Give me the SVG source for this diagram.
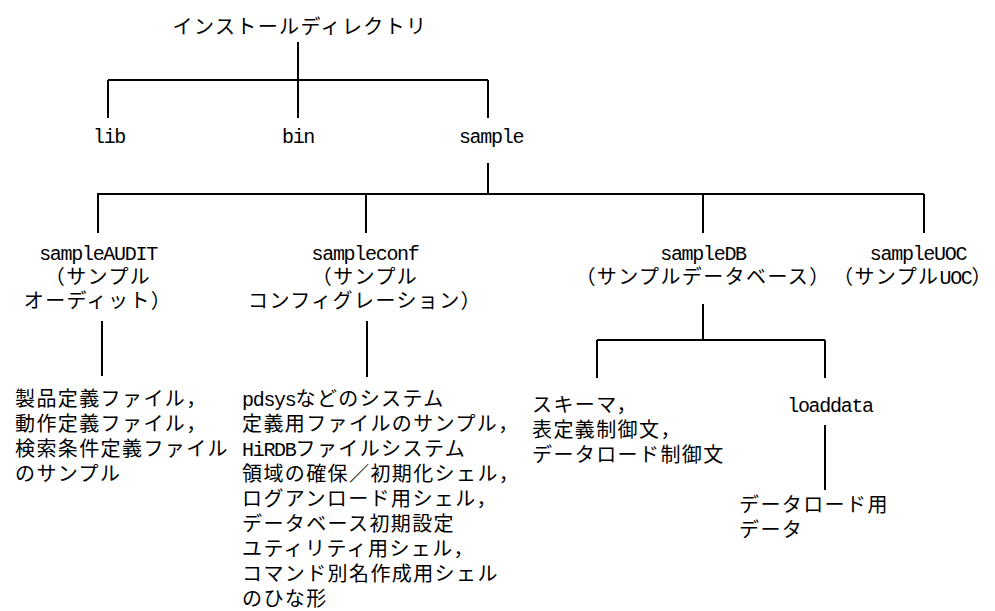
<svg xmlns="http://www.w3.org/2000/svg" width="995" height="611" viewBox="0 0 995 611">
<style>
.j { font-family: "Noto Sans CJK JP", "Noto Sans CJK SC", sans-serif; font-size: 20px; letter-spacing: 1.4px; fill: #000; }
.m { font-family: "Liberation Mono", "DejaVu Sans Mono", monospace; font-size: 20px; letter-spacing: -1.3px; fill: #000; }
.c { text-anchor: middle; }
.ln { stroke: #000; stroke-width: 2; fill: none; stroke-linecap: butt; }
</style>
<rect width="995" height="611" fill="#fff"/>
<g id="connectors" class="ln">
  <path d="M298,42 V80 M108,80 H488 M108,80 V118 M298,80 V118 M488,80 V118"/>
  <path d="M488,163 V194 M97,194 H924 M98,194 V233 M366,194 V233 M703,194 V233 M924,194 V233"/>
  <path d="M102,321 V376"/>
  <path d="M367,321 V377"/>
  <path d="M703,304 V340 M597,340 H825 M597,340 V378 M825,340 V378"/>
  <path d="M825,425 V490"/>
</g>
<g id="root"><text class="j c" x="300" y="34">インストールディレクトリ</text></g>
<g id="lib"><text class="m c" x="109" y="143">lib</text></g>
<g id="bin"><text class="m c" x="298" y="143">bin</text></g>
<g id="sample"><text class="m c" x="491" y="143">sample</text></g>
<g id="sampleAUDIT">
  <text class="m c" x="98" y="260">sampleAUDIT</text>
  <text class="j c" x="98" y="284">（サンプル</text>
  <text class="j c" x="98" y="308">オーディット）</text>
</g>
<g id="sampleconf">
  <text class="m c" x="365" y="260">sampleconf</text>
  <text class="j c" x="365" y="284">（サンプル</text>
  <text class="j c" x="365" y="308">コンフィグレーション）</text>
</g>
<g id="sampleDB">
  <text class="m c" x="703" y="260">sampleDB</text>
  <text class="j c" x="703" y="284">（サンプルデータベース）</text>
</g>
<g id="sampleUOC">
  <text class="m c" x="918" y="260">sampleUOC</text>
  <text class="c" x="913" y="284"><tspan class="j">（サンプル</tspan><tspan class="m">UOC</tspan><tspan class="j">）</tspan></text>
</g>
<g id="auditFiles">
  <text class="j" x="15" y="406">製品定義ファイル，</text>
  <text class="j" x="15" y="431">動作定義ファイル，</text>
  <text class="j" x="15" y="456">検索条件定義ファイル</text>
  <text class="j" x="15" y="481">のサンプル</text>
</g>
<g id="confFiles">
  <text x="242" y="406"><tspan class="m">pdsys</tspan><tspan class="j">などのシステム</tspan></text>
  <text class="j" x="242" y="431">定義用ファイルのサンプル，</text>
  <text x="242" y="456"><tspan class="m">HiRDB</tspan><tspan class="j">ファイルシステム</tspan></text>
  <text class="j" x="242" y="481">領域の確保／初期化シェル，</text>
  <text class="j" x="242" y="506">ログアンロード用シェル，</text>
  <text class="j" x="242" y="531">データベース初期設定</text>
  <text class="j" x="242" y="556">ユティリティ用シェル，</text>
  <text class="j" x="242" y="581">コマンド別名作成用シェル</text>
  <text class="j" x="242" y="606">のひな形</text>
</g>
<g id="schema">
  <text class="j" x="532" y="412">スキーマ，</text>
  <text class="j" x="532" y="437">表定義制御文，</text>
  <text class="j" x="532" y="462">データロード制御文</text>
</g>
<g id="loaddata"><text class="m c" x="830" y="412">loaddata</text></g>
<g id="loaddataFiles">
  <text class="j" x="739" y="512">データロード用</text>
  <text class="j" x="739" y="537">データ</text>
</g>
</svg>
